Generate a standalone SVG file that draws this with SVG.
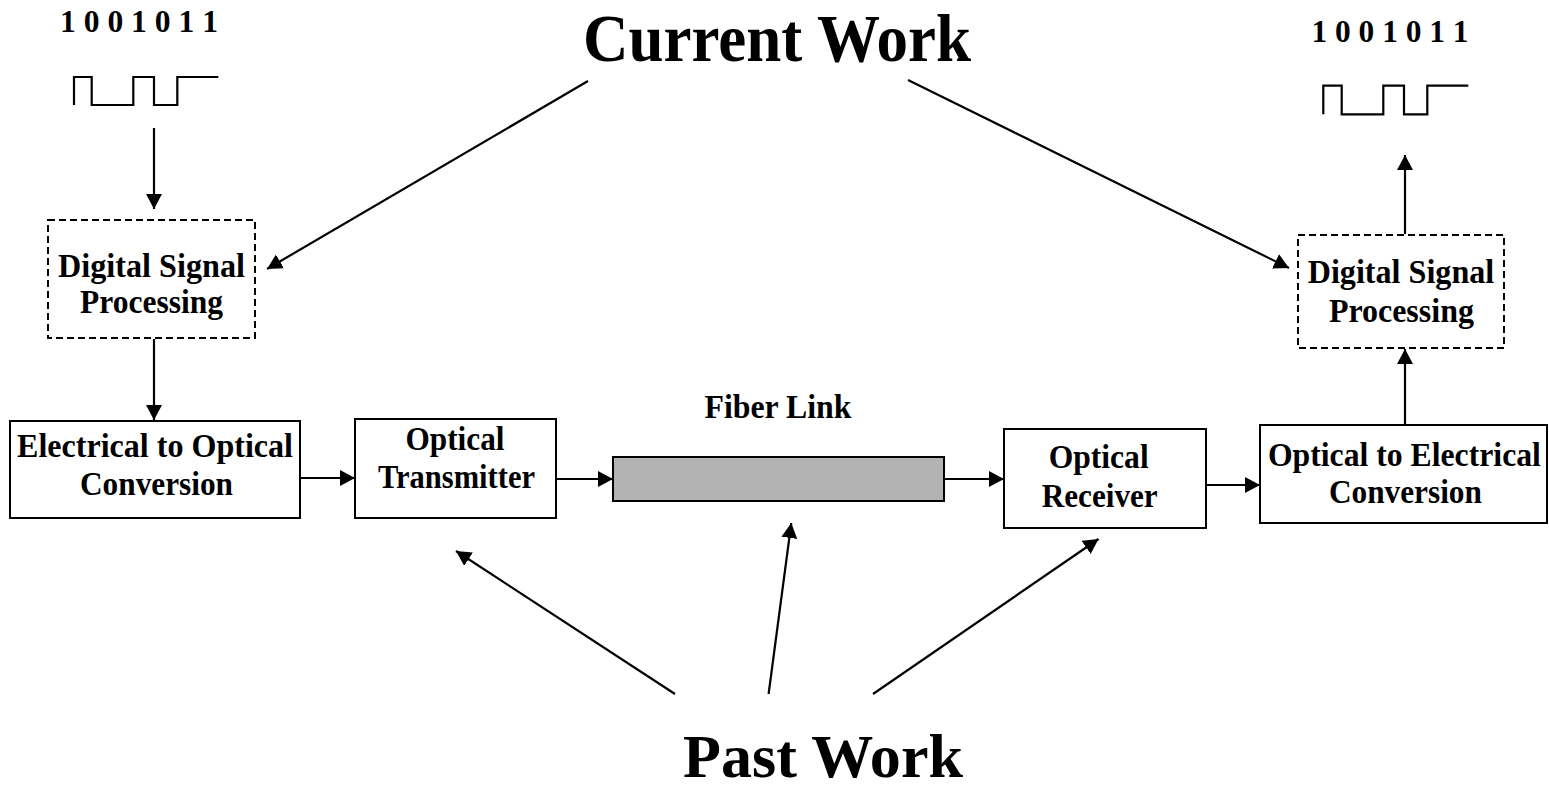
<svg xmlns="http://www.w3.org/2000/svg" width="1549" height="791" viewBox="0 0 1549 791">
<defs>
<style>
text{font-family:"Liberation Serif","Times New Roman",serif;font-weight:bold;fill:#000;text-anchor:middle}
.lbl{font-size:33px}
.bits{font-size:32px}
.box{fill:#fff;stroke:#000;stroke-width:2}
.dash{fill:#fff;stroke:#000;stroke-width:2;stroke-dasharray:7 4}
.wave{fill:none;stroke:#000;stroke-width:2.2}
.conn line{stroke:#000;stroke-width:2.2;marker-end:url(#ah)}
</style>
<marker id="ah" markerUnits="userSpaceOnUse" markerWidth="17" markerHeight="17" refX="15" refY="8" orient="auto" viewBox="0 0 17 17">
<path d="M0,0 L15,8 L0,16 Z" fill="#000"/>
</marker>
</defs>
<rect width="1549" height="791" fill="#fff"/>

<g id="title-current"><text x="777" y="61" font-size="68" textLength="388" lengthAdjust="spacingAndGlyphs">Current Work</text></g>
<g id="title-past"><text x="823" y="777" font-size="62" textLength="280" lengthAdjust="spacingAndGlyphs">Past Work</text></g>

<g id="bits-in">
<text class="bits" x="139" y="32" textLength="158" lengthAdjust="spacingAndGlyphs">1 0 0 1 0 1 1</text>
<path class="wave" d="M74,105 V77 H91.7 V105 H133.3 V77 H154 V105 H177.3 V77 H218.3"/>
</g>
<g id="bits-out">
<text class="bits" x="1390" y="41.7" textLength="157" lengthAdjust="spacingAndGlyphs">1 0 0 1 0 1 1</text>
<path class="wave" d="M1323.3,114.3 V85.7 H1341.7 V114.3 H1383.3 V85.7 H1404 V114.3 H1427.3 V85.7 H1468.3"/>
</g>

<g id="dsp-tx">
<rect class="dash" x="48" y="220" width="207" height="118"/>
<text class="lbl" x="151.5" y="277" textLength="187" lengthAdjust="spacingAndGlyphs">Digital Signal</text>
<text class="lbl" x="151.5" y="313" textLength="143" lengthAdjust="spacingAndGlyphs">Processing</text>
</g>
<g id="eo">
<rect class="box" x="10" y="421" width="290" height="97"/>
<text class="lbl" x="155" y="457" textLength="276" lengthAdjust="spacingAndGlyphs">Electrical to Optical</text>
<text class="lbl" x="156.5" y="495" textLength="153" lengthAdjust="spacingAndGlyphs">Conversion</text>
</g>
<g id="transmitter">
<rect class="box" x="355" y="419" width="201" height="99"/>
<text class="lbl" x="455" y="450" textLength="99" lengthAdjust="spacingAndGlyphs">Optical</text>
<text class="lbl" x="456.5" y="488" textLength="157" lengthAdjust="spacingAndGlyphs">Transmitter</text>
</g>
<g id="fiber">
<text class="lbl" x="778" y="418" textLength="147" lengthAdjust="spacingAndGlyphs">Fiber Link</text>
<rect x="613" y="457" width="331" height="44" fill="#b3b3b3" stroke="#000" stroke-width="2"/>
</g>
<g id="receiver">
<rect class="box" x="1004" y="429" width="202" height="99"/>
<text class="lbl" x="1098.7" y="468" textLength="100" lengthAdjust="spacingAndGlyphs">Optical</text>
<text class="lbl" x="1099.7" y="506.7" textLength="116" lengthAdjust="spacingAndGlyphs">Receiver</text>
</g>
<g id="oe">
<rect class="box" x="1260" y="425" width="287" height="98"/>
<text class="lbl" x="1404.4" y="465.7" textLength="273" lengthAdjust="spacingAndGlyphs">Optical to Electrical</text>
<text class="lbl" x="1405.4" y="503.3" textLength="153" lengthAdjust="spacingAndGlyphs">Conversion</text>
</g>
<g id="dsp-rx">
<rect class="dash" x="1298" y="235" width="206" height="113"/>
<text class="lbl" x="1401" y="283.3" textLength="186.5" lengthAdjust="spacingAndGlyphs">Digital Signal</text>
<text class="lbl" x="1401.4" y="321.7" textLength="145" lengthAdjust="spacingAndGlyphs">Processing</text>
</g>

<g id="connectors" class="conn">
<line x1="154" y1="128" x2="154" y2="209"/>
<line x1="154" y1="339" x2="154" y2="420"/>
<line x1="300" y1="478" x2="355" y2="478"/>
<line x1="556" y1="479" x2="613" y2="479"/>
<line x1="944" y1="479" x2="1004" y2="479"/>
<line x1="1206" y1="485" x2="1260" y2="485"/>
<line x1="1405" y1="425" x2="1405" y2="349"/>
<line x1="1405" y1="234" x2="1405" y2="155"/>
<line x1="588" y1="81" x2="267" y2="269"/>
<line x1="908" y1="80" x2="1289" y2="268"/>
<line x1="675" y1="694" x2="456" y2="551"/>
<line x1="768.6" y1="694" x2="791.3" y2="523"/>
<line x1="873" y1="694" x2="1098.5" y2="539"/>
</g>
</svg>
